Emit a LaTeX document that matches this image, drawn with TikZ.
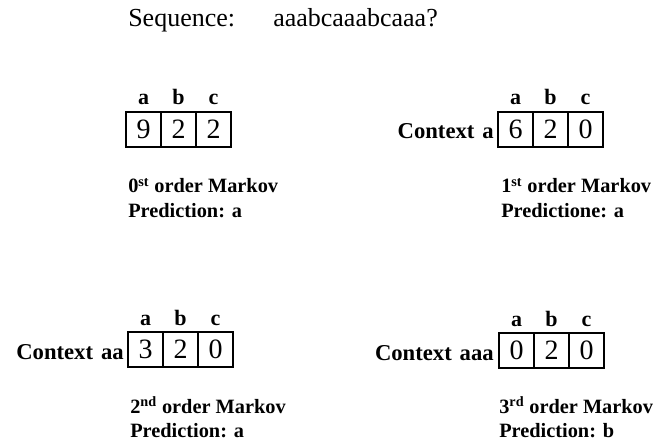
\documentclass[tikz,border=0pt]{standalone}
\usepackage{fontspec}
\setmainfont{Liberation Serif}
\begin{document}
\begin{tikzpicture}[x=0.75pt,y=-0.75pt,
  cell/.style={draw, line width=1.1pt, minimum width=26.25pt, minimum height=26.25pt,
    inner sep=0pt, font=\fontsize{21}{23}\selectfont},
  sym/.style={anchor=base, inner sep=0pt, font=\fontsize{16.5}{18}\selectfont\bfseries},
  ctx/.style={anchor=base east, inner sep=0pt, font=\fontsize{17}{19}\selectfont\bfseries},
  info/.style={anchor=base west, inner sep=0pt, font=\fontsize{15.25}{17}\selectfont\bfseries},
  title/.style={anchor=base west, inner sep=0pt, font=\fontsize{19.5}{21}\selectfont}]
\useasboundingbox (0,0) rectangle (659,445);

% heading
\node[title] (seqlabel) at (128,27) {Sequence:};
\node[title] (seq) at (273,27) {aaabcaaabcaaa?};

% count table: prefix, left x, top y, three counts
\newcommand\counttable[6]{%
  \node[cell] (#1a) at (#2+17.5,#3+17.5) {#4};
  \node[cell] (#1b) at (#2+52.5,#3+17.5) {#5};
  \node[cell] (#1c) at (#2+87.5,#3+17.5) {#6};
  \node[sym] (#1la) at (#2+17.5,#3-7) {a};
  \node[sym] (#1lb) at (#2+52.5,#3-7) {b};
  \node[sym] (#1lc) at (#2+87.5,#3-7) {c};
}

% 0th order
\counttable{z}{126}{112}{9}{2}{2}
\node[info] (zo) at (128,193) {0\textsuperscript{st} order Markov};
\node[info] (zp) at (128,217) {Prediction: a};

% 1st order
\counttable{o}{498}{112}{6}{2}{0}
\node[ctx] (octx) at (494,139) {Context\hspace{0.35em}a};
\node[info] (oo) at (501,193) {1\textsuperscript{st} order Markov};
\node[info] (op) at (501,217) {Predictione: a};

% 2nd order
\counttable{t}{128}{332}{3}{2}{0}
\node[ctx] (tctx) at (124,359) {Context\hspace{0.35em}aa};
\node[info] (to) at (130,413) {2\textsuperscript{nd} order Markov};
\node[info] (tp) at (130,437) {Prediction: a};

% 3rd order
\counttable{h}{499}{333}{0}{2}{0}
\node[ctx] (hctx) at (494,360) {Context\hspace{0.35em}aaa};
\node[info] (ho) at (499,413) {3\textsuperscript{rd} order Markov};
\node[info] (hp) at (499,437) {Prediction: b};
\end{tikzpicture}
\end{document}
